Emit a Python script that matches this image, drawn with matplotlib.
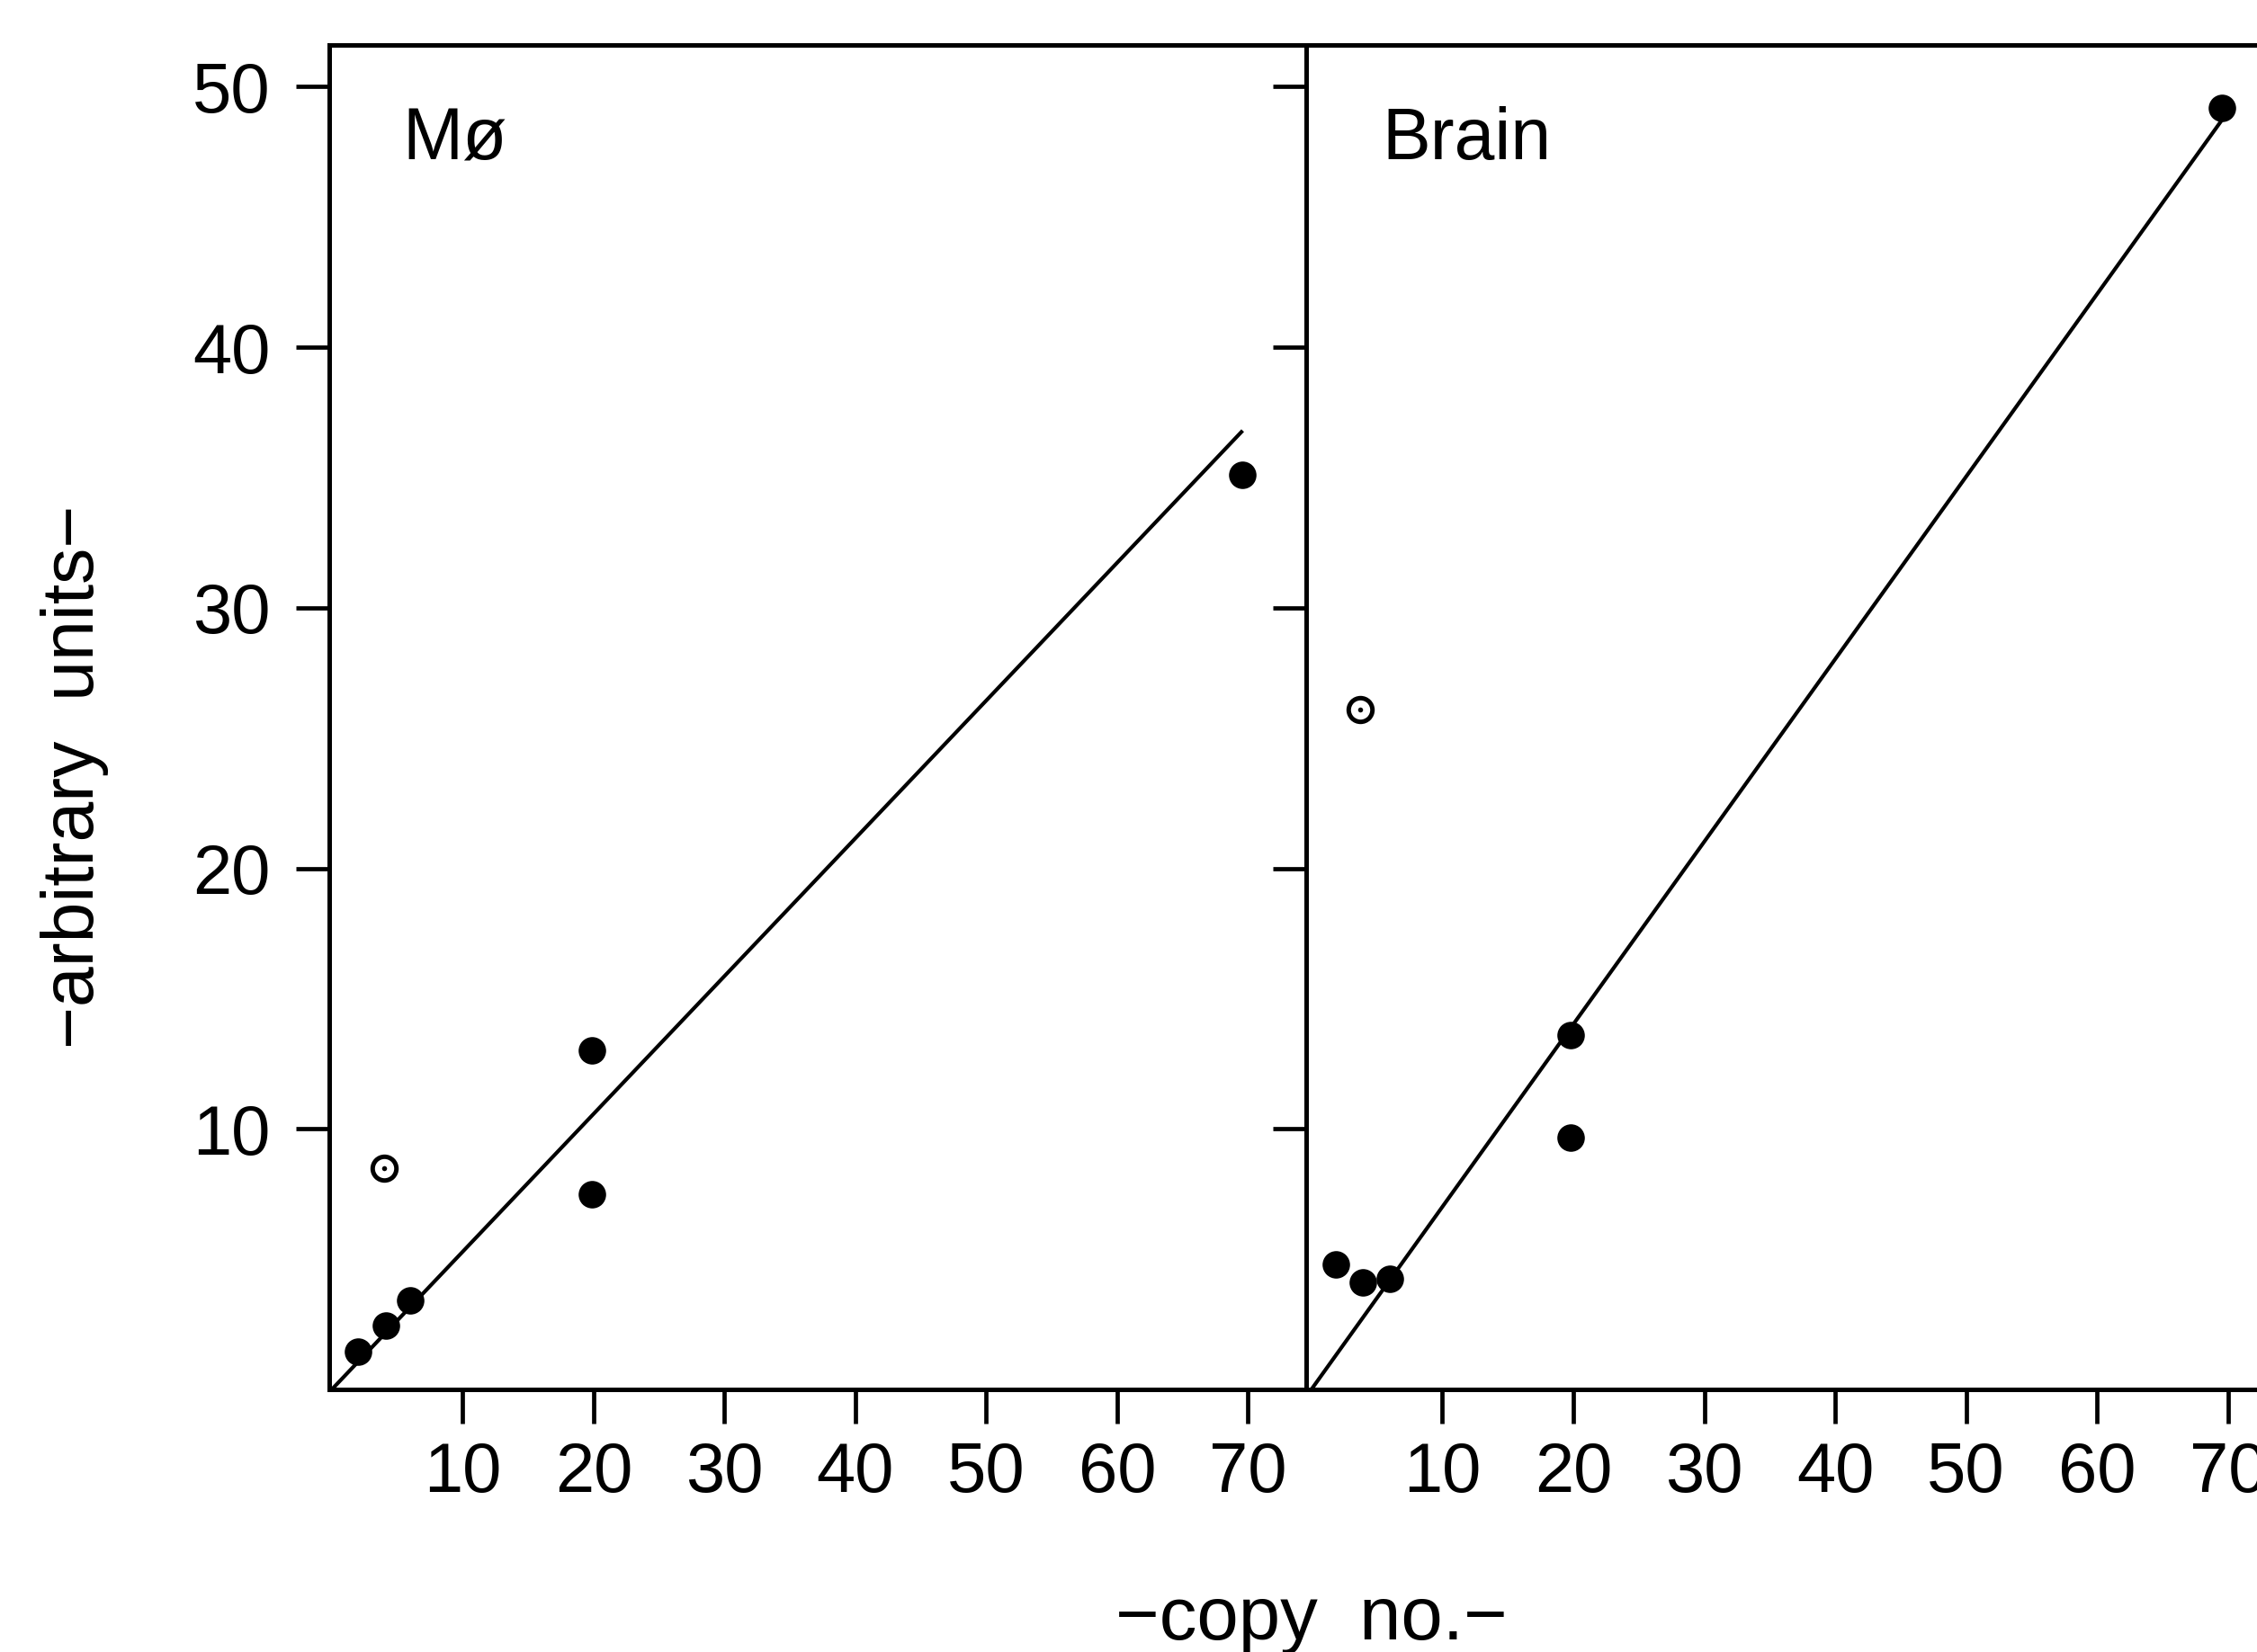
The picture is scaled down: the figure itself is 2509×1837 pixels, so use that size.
import matplotlib.pyplot as plt
from matplotlib import font_manager

# pick a font close to the original typeface
names = {f.name for f in font_manager.fontManager.ttflist}
plt.rcParams['font.family'] = ['Liberation Sans', 'DejaVu Sans'] if 'Liberation Sans' in names else ['DejaVu Sans']

# Data
x_ticks = [10, 20, 30, 40, 50, 60, 70]
y_ticks = [10, 20, 30, 40, 50]

mo_x = [2.0, 4.1, 6.0, 19.9, 19.9, 69.6]
mo_y = [1.45, 2.45, 3.4, 13.0, 7.5, 35.1]
mo_open_x = [4.0]
mo_open_y = [8.5]
mo_fit_x = [0, 69.6]
mo_fit_y = [0, 36.8]

brain_x = [1.9, 3.9, 6.0, 19.8, 19.8, 69.5]
brain_y = [4.8, 4.1, 4.25, 13.6, 9.65, 49.2]
brain_open_x = [3.7]
brain_open_y = [26.1]
brain_fit_x = [0, 69.5]
brain_fit_y = [0, 48.7]

panels = [
    ('Mø', mo_x, mo_y, mo_open_x, mo_open_y, mo_fit_x, mo_fit_y, (-0.2, 74.45)),
    ('Brain', brain_x, brain_y, brain_open_x, brain_open_y, brain_fit_x, brain_fit_y, (-0.4, 74.2)),
]

W, H = 2509, 1837
fig = plt.figure(figsize=(W / 100, H / 100), dpi=100)
fig.patch.set_facecolor('white')

left0 = 366 / W
pw = (1452 - 366) / W
bottom = 1 - 1545 / H
top = 1 - 50 / H

for i, (name, xs, ys, ox, oy, fx, fy, xlim) in enumerate(panels):
    ax = fig.add_axes([left0 + i * pw, bottom, pw, top - bottom])
    ax.plot(fx, fy, color='black', lw=3.0, solid_capstyle='butt', zorder=2)
    ax.plot(xs, ys, 'o', color='black', ms=22, mew=0, zorder=3)
    ax.plot(ox, oy, 'o', mfc='white', mec='black', ms=19, mew=3.6, zorder=3)
    ax.plot(ox, oy, 'o', color='black', ms=4, mew=0, zorder=4)
    ax.set_xlim(*xlim)
    ax.set_ylim(0, 51.6)
    ax.set_xticks(x_ticks)
    ax.set_yticks(y_ticks)
    ax.tick_params(direction='out', length=27, width=3.4, labelsize=56, colors='black')
    ax.tick_params(axis='x', pad=14)
    ax.tick_params(axis='y', pad=20)
    if i == 1:
        ax.tick_params(axis='y', labelleft=False)
    for s in ax.spines.values():
        s.set_linewidth(3.6)
    ax.text(5.4, 47.2, name, fontsize=58, va='baseline', ha='left')

fig.text(0.033, 0.53, '\u2212arbitrary  units\u2212', rotation=90, fontsize=58,
         ha='center', va='center')
fig.text(0.581, 0.0078, '\u2212copy  no.\u2212', fontsize=60, ha='center', va='baseline')

fig.savefig('out.png', dpi=100, facecolor='white')
